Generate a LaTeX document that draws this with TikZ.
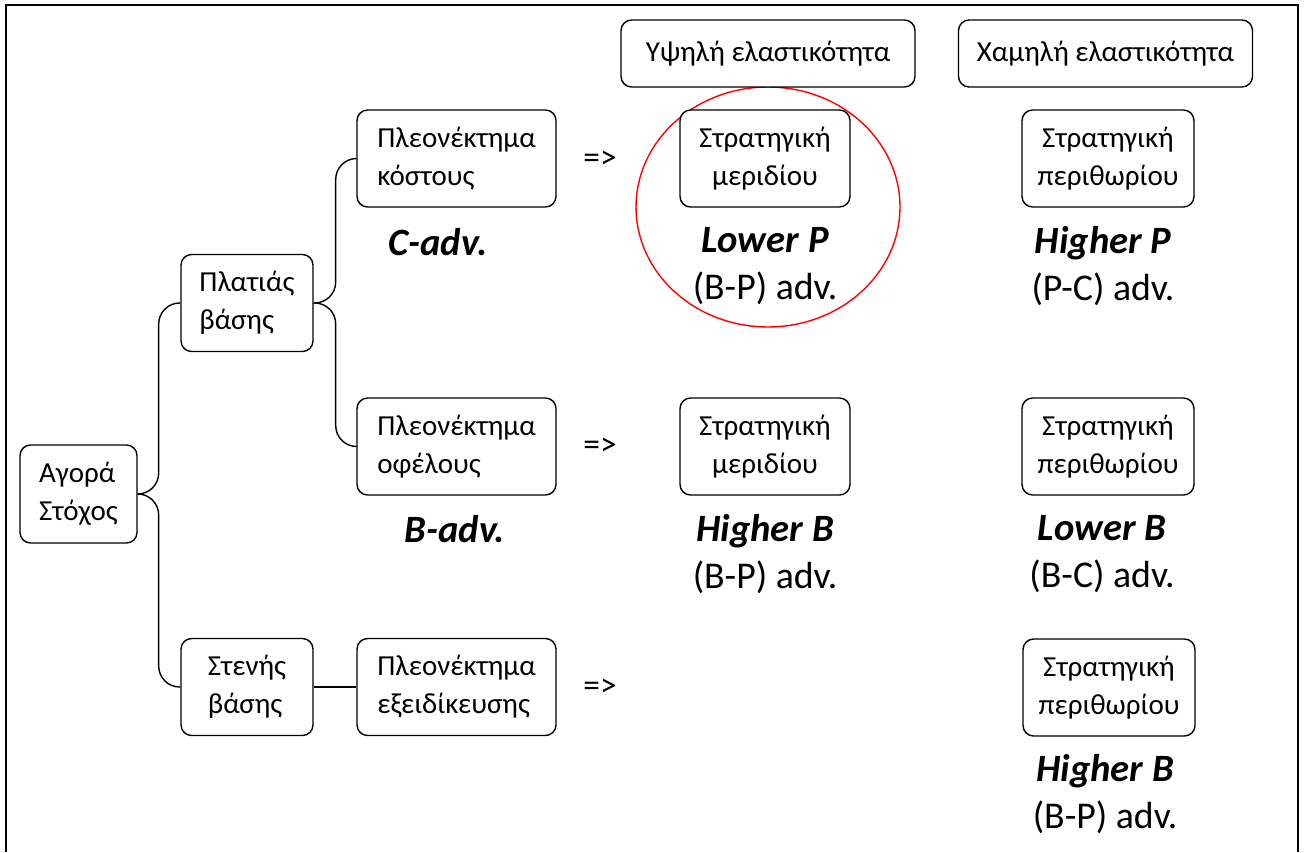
\documentclass[tikz,border=0pt]{standalone}
\usepackage{fontspec}
\setmainfont{Carlito}
\usetikzlibrary{positioning, shapes.geometric}

\begin{document}
\begin{tikzpicture}[
  x=0.02cm, y=-0.02cm,
  font=\fontsize{16.5}{21.5}\selectfont,
  block/.style={draw=black, line width=0.8pt, rounded corners=6pt, fill=white,
                minimum height=1.94cm, inner sep=3pt},
  lblock/.style={block, align=left},
  cblock/.style={block, align=center},
  head/.style={block, align=center, minimum height=1.34cm, minimum width=5.88cm},
  branch/.style={draw=black, line width=0.8pt, rounded corners=0.42cm},
  note/.style={align=center, font=\fontsize{21.5}{27}\selectfont},
  emph/.style={font=\fontsize{22}{27}\selectfont\bfseries\itshape},
  impl/.style={font=\fontsize{19}{22}\selectfont}
]
\useasboundingbox (0,0) rectangle (1304,852);
\draw[line width=1.5pt] (6,852) -- (6,5) -- (1298,5) -- (1298,852);

% focus on the share strategy (behind the boxes)
\node[draw=red, line width=0.8pt, ellipse, minimum width=5.28cm, minimum height=4.8cm]
  (focus) at (768,207) {};

% tree of the market
\node[lblock, minimum width=2.34cm, minimum height=1.96cm] (agora) at (78.5,494) {Αγορά\\Στόχος};
\node[lblock, minimum width=2.64cm] (platia) at (247,303) {Πλατιάς\\βάσης};
\node[lblock, minimum width=2.64cm] (steni) at (247,687) {Στενής\\βάσης};

\node[lblock, minimum width=3.98cm] (kostos) at (456.5,158.5) {Πλεονέκτημα\\κόστους};
\node[lblock, minimum width=3.98cm] (ofelos) at (456.5,446.5) {Πλεονέκτημα\\οφέλους};
\node[lblock, minimum width=3.98cm] (exeid) at (456.5,687) {Πλεονέκτημα\\εξειδίκευσης};

\node[emph] (cadv) at (438,242) {C-adv.};
\node[emph] (badv) at (455,529) {B-adv.};

\node[impl] (impl1) at (600,160) {=>};
\node[impl] (impl2) at (600,447) {=>};
\node[impl] (impl3) at (600,688) {=>};

% elasticity columns
\node[head] (hiel) at (768,53.5) {Υψηλή ελαστικότητα};
\node[head] (loel) at (1105.5,53.5) {Χαμηλή ελαστικότητα};

\node[cblock, minimum width=3.4cm] (mer1) at (765,158.5) {Στρατηγική\\μεριδίου};
\node[cblock, minimum width=3.4cm] (mer2) at (765,446.5) {Στρατηγική\\μεριδίου};
\node[cblock, minimum width=3.44cm] (per1) at (1108,158.5) {Στρατηγική\\περιθωρίου};
\node[cblock, minimum width=3.44cm] (per2) at (1108,446.5) {Στρατηγική\\περιθωρίου};
\node[cblock, minimum width=3.44cm] (per3) at (1109,687.5) {Στρατηγική\\περιθωρίου};

\node[note] (lowp) at (765,266) {{\fontsize{22}{27}\selectfont\bfseries\itshape Lower P}\\(B-P) adv.};
\node[note] (highp) at (1103,266) {{\fontsize{22}{27}\selectfont\bfseries\itshape Higher P}\\(P-C) adv.};
\node[note] (highb) at (765,554) {{\fontsize{22}{27}\selectfont\bfseries\itshape Higher B}\\(B-P) adv.};
\node[note] (lowb) at (1102,554) {{\fontsize{22}{27}\selectfont\bfseries\itshape Lower B}\\(B-C) adv.};
\node[note] (highb2) at (1105,794) {{\fontsize{22}{27}\selectfont\bfseries\itshape Higher B}\\(B-P) adv.};

\draw[branch] (agora.east) -- ++(21,0) |- (platia.west);
\draw[branch] (agora.east) -- ++(21,0) |- (steni.west);
\draw[branch] (platia.east) -- ++(22,0) |- (kostos.west);
\draw[branch] (platia.east) -- ++(22,0) |- (ofelos.west);
\draw[branch] (steni.east) -- (exeid.west);

\end{tikzpicture}
\end{document}
